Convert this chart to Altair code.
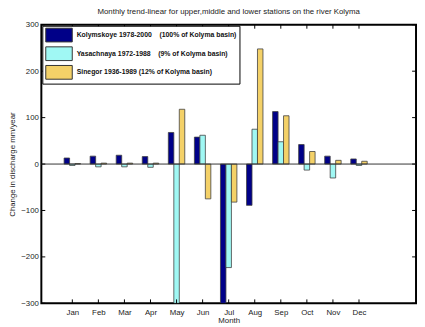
import altair as alt
import pandas as pd

months = ["Jan", "Feb", "Mar", "Apr", "May", "Jun", "Jul", "Aug", "Sep", "Oct", "Nov", "Dec"]
month_num = [1, 2, 3, 4, 5, 6, 7, 8, 9, 10, 11, 12]
NB = "\u00a0"
series_names = [
    "Kolymskoye 1978-2000" + NB * 3 + " (100% of Kolyma basin)",
    "Yasachnaya 1972-1988" + NB * 3 + " (9% of Kolyma basin)",
    "Sinegor 1936-1989 (12% of Kolyma basin)",
]
series_colors = ["#000088", "#A0F8F4", "#F4D168"]
kolymskoye = [13, 17, 19, 16, 68, 58, -300, -89, 113, 42, 17, 11]
yasachnaya = [-3, -6, -6, -7, -300, 62, -223, 75, 48, -13, -30, -3]
sinegor = [1, 2, 2, 2, 118, -75, -82, 248, 104, 27, 8, 6]
series_offsets = [-0.21, 0.0, 0.21]
y_tick_values = [-300, -200, -100, 0, 100, 200, 300]

rows = []
for name, vals, off in zip(series_names, [kolymskoye, yasachnaya, sinegor], series_offsets):
    for m, mn, v in zip(months, month_num, vals):
        rows.append({"month": m, "pos": mn + off, "value": v, "series": name})
df = pd.DataFrame(rows)
xt = pd.DataFrame({"pos": month_num})
yt = pd.DataFrame({"value": y_tick_values})

W, H = 382, 284
FONT = "Liberation Sans"
x_scale = alt.Scale(domain=[0, 14], nice=False, zero=False)
y_scale = alt.Scale(domain=[-300, 300], nice=False)

label_expr = "[''," + ",".join(f"'{m}'" for m in months) + "][datum.value]"

x_axis = alt.Axis(values=month_num, labelExpr=label_expr, title="Month",
                  ticks=False, domain=False, grid=False, labelPadding=5,
                  labelFontSize=8, labelFont=FONT, labelColor="#222",
                  titleFontSize=8, titleFont=FONT, titleFontWeight="normal",
                  titleColor="#222", titlePadding=1)
y_axis = alt.Axis(values=y_tick_values, title="Change in discharge mm/year",
                  ticks=False, domain=False, grid=False, labelPadding=3,
                  labelFontSize=8, labelFont=FONT, labelColor="#222",
                  titleFontSize=8, titleFont=FONT, titleFontWeight="normal",
                  titleColor="#222", titlePadding=4)

zero_line = alt.Chart(pd.DataFrame({"value": [0]})).mark_rule(color="#333", strokeWidth=1).encode(
    y=alt.Y("value:Q", scale=y_scale, axis=y_axis),
    x=alt.value(0), x2=alt.value(W),
)

bars = alt.Chart(df).mark_bar(size=5.6, stroke="#404040", strokeWidth=0.8, clip=True).encode(
    x=alt.X("pos:Q", scale=x_scale, axis=x_axis),
    y=alt.Y("value:Q", scale=y_scale, axis=y_axis),
    y2=alt.datum(0),
    color=alt.Color("series:N", sort=series_names,
                    scale=alt.Scale(domain=series_names, range=series_colors),
                    legend=alt.Legend(title=None, orient="none", legendX=1, legendY=1,
                                      fillColor="white", strokeColor="black", padding=2,
                                      rowPadding=0, symbolType="M-1.93,-1H1.93V1H-1.93Z",
                                      symbolSize=196, symbolOffset=7.5, labelOffset=10.5,
                                      symbolStrokeColor="#333", symbolStrokeWidth=1,
                                      symbolOpacity=1, labelFont=FONT, labelFontSize=7,
                                      labelFontWeight="bold", labelColor="#111",
                                      labelLimit=400)),
)

tick_b = alt.Chart(xt).mark_rule(color="black", strokeWidth=1).encode(
    x=alt.X("pos:Q", scale=x_scale, axis=x_axis), y=alt.value(H), y2=alt.value(H - 4))
tick_t = alt.Chart(xt).mark_rule(color="black", strokeWidth=1).encode(
    x=alt.X("pos:Q", scale=x_scale, axis=x_axis), y=alt.value(0), y2=alt.value(4))
tick_l = alt.Chart(yt).mark_rule(color="black", strokeWidth=1).encode(
    y=alt.Y("value:Q", scale=y_scale, axis=y_axis), x=alt.value(0), x2=alt.value(4))
tick_r = alt.Chart(yt).mark_rule(color="black", strokeWidth=1).encode(
    y=alt.Y("value:Q", scale=y_scale, axis=y_axis), x=alt.value(W), x2=alt.value(W - 4))

chart = alt.layer(bars, zero_line, tick_b, tick_t, tick_l, tick_r).properties(
    width=W, height=H,
    background="white",
    title=alt.TitleParams("Monthly trend-linear for upper,middle and lower stations on the river Kolyma",
                          fontSize=8, font=FONT, fontWeight="normal", color="#222", offset=5),
    padding={"left": 34, "top": 14, "right": 1, "bottom": 19},
    autosize=alt.AutoSizeParams(type="none"),
).configure_view(stroke="black", strokeWidth=2)

chart.save("out.html", embed_options={"renderer": "svg", "actions": False})
